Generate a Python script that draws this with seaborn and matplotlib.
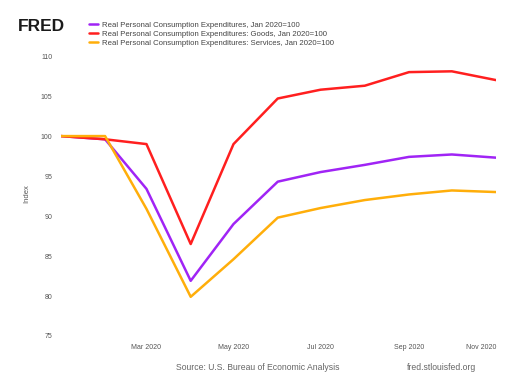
import numpy as np
import pandas as pd
import matplotlib.pyplot as plt
import seaborn as sns

# --- Data --- #
months = pd.date_range("2020-01-01", "2020-11-01", freq="MS")
total = [100.0, 99.6, 93.4, 81.9, 89.0, 94.3, 95.5, 96.4, 97.4, 97.7, 97.3]
goods = [100.0, 99.6, 99.0, 86.5, 99.0, 104.7, 105.8, 106.3, 108.0, 108.1, 107.0]
services = [100.0, 100.0, 90.9, 79.9, 84.6, 89.8, 91.0, 92.0, 92.7, 93.2, 93.0]

labels = ["Real Personal Consumption Expenditures, Jan 2020=100",
          "Real Personal Consumption Expenditures: Goods, Jan 2020=100",
          "Real Personal Consumption Expenditures: Services, Jan 2020=100"]
colors = ["#a024f5", "#ff1f1f", "#ffae0a"]

tick_dates = pd.to_datetime(["2020-03-01", "2020-05-01", "2020-07-01", "2020-09-01", "2020-11-01"])
tick_labels = ["Mar 2020", "May 2020", "Jul 2020", "Sep 2020", "Nov 2020"]
y_ticks = [75, 80, 85, 90, 95, 100, 105, 110]

df = pd.DataFrame({"date": list(months) * 3,
                   "value": total + goods + services,
                   "series": [labels[0]] * 11 + [labels[1]] * 11 + [labels[2]] * 11})

# --- Plot --- #
sns.set_style("white")
plt.rcParams['font.family'] = ['Liberation Sans', 'DejaVu Sans']

fig = plt.figure(figsize=(5.2, 3.82), dpi=100)
ax = fig.add_axes([0.117, 0.11, 0.837, 0.764])

sns.lineplot(data=df, x="date", y="value", hue="series", palette=colors,
             linewidth=1.8, ax=ax)

ax.set_xlim(months[0], months[-1])
ax.set_ylim(74.5, 111)
ax.set_xticks(tick_dates)
ax.set_xticklabels(tick_labels)
ax.set_yticks(y_ticks)
ax.tick_params(axis="both", length=0, labelsize=5, labelcolor="#555555")
ax.tick_params(axis="y", pad=6)
ax.tick_params(axis="x", pad=3)
ax.get_xticklabels()[-1].set_ha("right")
ax.set_xlabel("")
ax.set_ylabel("Index", fontsize=5.5, color="#555555", labelpad=8)
for s in ax.spines.values():
    s.set_visible(False)

ax.legend(loc="upper left", bbox_to_anchor=(0.163, 0.955), bbox_transform=fig.transFigure,
          frameon=False, fontsize=5.6, handlelength=1.2, handletextpad=0.5,
          labelspacing=0.2, borderpad=0, labelcolor="#444444")

fig.text(0.035, 0.93, "FRED", fontsize=12.5, fontweight="bold", color="#1a1a1a", va="center")
fig.text(0.338, 0.037, "Source: U.S. Bureau of Economic Analysis", fontsize=6.2, color="#666666", va="center")
fig.text(0.782, 0.037, "fred.stlouisfed.org", fontsize=6.2, color="#666666", va="center")

fig.savefig("out.png", dpi=100)
